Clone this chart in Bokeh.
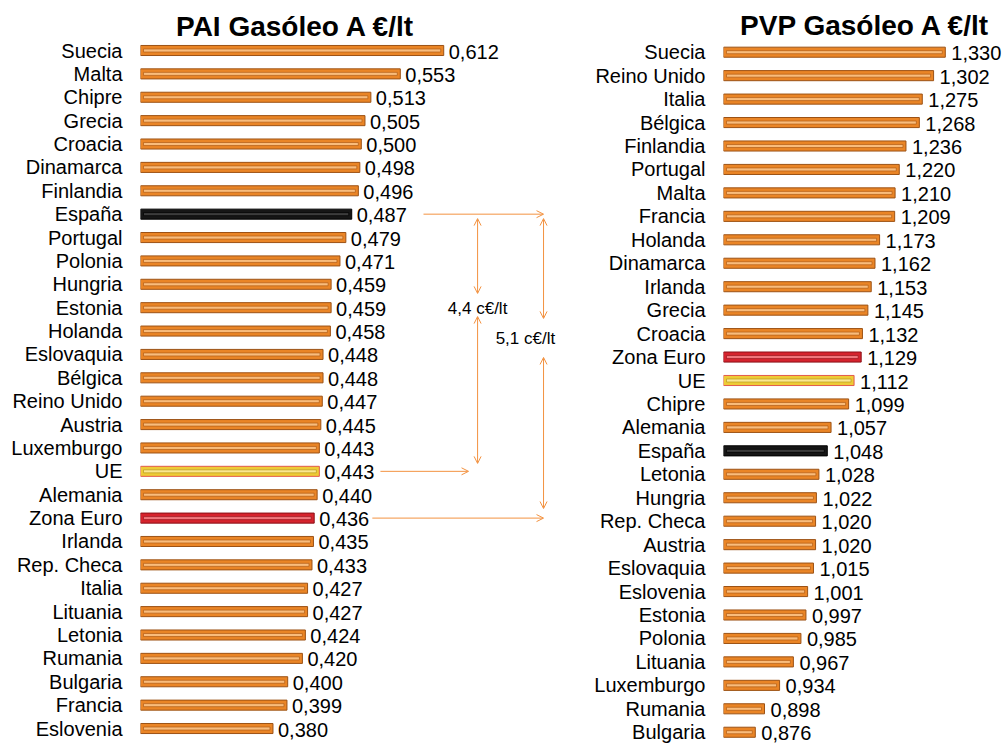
from bokeh.plotting import figure
from bokeh.models import Range1d, FixedTicker, Arrow, OpenHead, Label, ColumnDataSource
from bokeh.layouts import row
from bokeh.embed import file_html
from bokeh.resources import INLINE
from bokeh.core.properties import value

# ---------------- data ----------------
pai_countries = ["Suecia", "Malta", "Chipre", "Grecia", "Croacia", "Dinamarca", "Finlandia",
                 "España", "Portugal", "Polonia", "Hungria", "Estonia", "Holanda", "Eslovaquia",
                 "Bélgica", "Reino Unido", "Austria", "Luxemburgo", "UE", "Alemania", "Zona Euro",
                 "Irlanda", "Rep. Checa", "Italia", "Lituania", "Letonia", "Rumania", "Bulgaria",
                 "Francia", "Eslovenia"]
pai_values = [0.612, 0.553, 0.513, 0.505, 0.500, 0.498, 0.496, 0.487, 0.479, 0.471, 0.459,
              0.459, 0.458, 0.448, 0.448, 0.447, 0.445, 0.443, 0.443, 0.440, 0.436, 0.435,
              0.433, 0.427, 0.427, 0.424, 0.420, 0.400, 0.399, 0.380]

pvp_countries = ["Suecia", "Reino Unido", "Italia", "Bélgica", "Finlandia", "Portugal", "Malta",
                 "Francia", "Holanda", "Dinamarca", "Irlanda", "Grecia", "Croacia", "Zona Euro",
                 "UE", "Chipre", "Alemania", "España", "Letonia", "Hungria", "Rep. Checa",
                 "Austria", "Eslovaquia", "Eslovenia", "Estonia", "Polonia", "Lituania",
                 "Luxemburgo", "Rumania", "Bulgaria"]
pvp_values = [1.330, 1.302, 1.275, 1.268, 1.236, 1.220, 1.210, 1.209, 1.173, 1.162, 1.153,
              1.145, 1.132, 1.129, 1.112, 1.099, 1.057, 1.048, 1.028, 1.022, 1.020, 1.020,
              1.015, 1.001, 0.997, 0.985, 0.967, 0.934, 0.898, 0.876]

title_pai = "PAI Gasóleo A €/lt"
title_pvp = "PVP Gasóleo A €/lt"
gap_ue_text = "4,4 c€/lt"
gap_ze_text = "5,1 c€/lt"

# ---------------- style ----------------
FONT = "Liberation Sans"
ORANGE = "#F39240"
STYLES = {
    "default": ("#EA8526", "#9C5215", "#F9BC7C", "#B05C16"),
    "España": ("#161616", "#000000", "#3C3C3C", "#000000"),
    "UE": ("#EECB36", "#E25A4C", "#FBE790", "#B8981C"),
    "Zona Euro": ("#D6232D", "#8A1018", "#F0767C", "#9A1820"),
}
H = 744


def make_panel(countries, values, base, ppu, width, border_left, row0, step,
               title, title_x, title_y, val_off):
    n = len(countries)
    idx = list(range(n))
    frame_w = width - border_left
    y_bottom = (H - row0) / step
    y_top = (0 - row0) / step
    p = figure(width=width, height=H, output_backend="svg", toolbar_location=None,
               x_range=Range1d(base, base + frame_w / ppu),
               y_range=Range1d(y_bottom, y_top),
               x_axis_location=None, y_axis_location="left",
               min_border_left=border_left, min_border_right=0,
               min_border_top=0, min_border_bottom=0,
               background_fill_color="white", border_fill_color="white")
    p.outline_line_color = None
    p.grid.visible = False
    inset = 3.0 / ppu
    st = [STYLES.get(c, STYLES["default"]) for c in countries]
    src = ColumnDataSource(dict(
        i=idx, v=values, v_in=[v - inset for v in values],
        lab=[f"{v:.3f}".replace(".", ",") for v in values],
        fill=[s[0] for s in st], line=[s[1] for s in st],
        inner=[s[2] for s in st], inner_line=[s[3] for s in st]))
    p.hbar(y="i", left=base, right="v", height=0.43, fill_color="fill",
           line_color="line", line_width=1, source=src)
    p.hbar(y="i", left=base + inset, right="v_in", height=0.13, fill_color="inner",
           line_color="inner_line", line_width=0.7, source=src)
    p.text(x="v", y="i", text="lab", x_offset=val_off, y_offset=1, text_baseline="middle",
           text_align="left", text_font=value(FONT), text_font_size="20px",
           text_color="black", source=src)
    ax = p.yaxis[0]
    ax.ticker = FixedTicker(ticks=idx, minor_ticks=[])
    ax.major_label_overrides = {i: c for i, c in enumerate(countries)}
    ax.axis_line_color = None
    ax.major_tick_line_color = None
    ax.minor_tick_line_color = None
    ax.major_tick_out = 0
    ax.major_tick_in = 0
    ax.major_label_standoff = 18
    ax.major_label_text_font = FONT
    ax.major_label_text_font_size = "20px"
    ax.major_label_text_color = "black"
    p.add_layout(Label(x=title_x, y=title_y, text=title, text_align="center",
                       text_baseline="alphabetic", text_font=FONT, text_font_size="28px",
                       text_font_style="bold", text_color="black"))
    return p


p1 = make_panel(pai_countries, pai_values, 0.2, 736.0, 578, 140, 50.0, 23.38,
                title_pai, 0.4107, -1.03, 5)
p2 = make_panel(pvp_countries, pvp_values, 0.8, 418.5, 425, 145, 51.7, 23.45,
                title_pvp, 1.139, -1.12, 6)

# ---------------- gap arrows on the PAI panel ----------------
i_es = pai_countries.index("España")
i_ue = pai_countries.index("UE")
i_ze = pai_countries.index("Zona Euro")
xa, xb = 0.658, 0.7476


def head():
    return OpenHead(size=7, line_color=ORANGE, line_width=1)


def arrow(x0, y0, x1, y1, both=False):
    p1.add_layout(Arrow(x_start=x0, y_start=y0, x_end=x1, y_end=y1,
                        start=head() if both else None, end=head(),
                        line_color=ORANGE, line_width=1))


arrow(0.5845, i_es, xb, i_es)
arrow(0.526, i_ue, 0.6457, i_ue)
arrow(0.515, i_ze, xb, i_ze)
arrow(xa, 7.19, xa, 10.39, both=True)
arrow(xa, 11.38, xa, 17.66, both=True)
arrow(xb, 7.19, xb, 11.46, both=True)
arrow(xb, 13.13, xb, 19.59, both=True)

p1.add_layout(Label(x=xa, y=11.04, text=gap_ue_text, text_align="center",
                    text_baseline="middle", text_font=FONT, text_font_size="17px",
                    text_color="black"))
p1.add_layout(Label(x=0.723, y=12.32, text=gap_ze_text, text_align="center",
                    text_baseline="middle", text_font=FONT, text_font_size="17px",
                    text_color="black"))

layout = row(p1, p2)
open("out.html", "w").write(file_html(layout, INLINE))
